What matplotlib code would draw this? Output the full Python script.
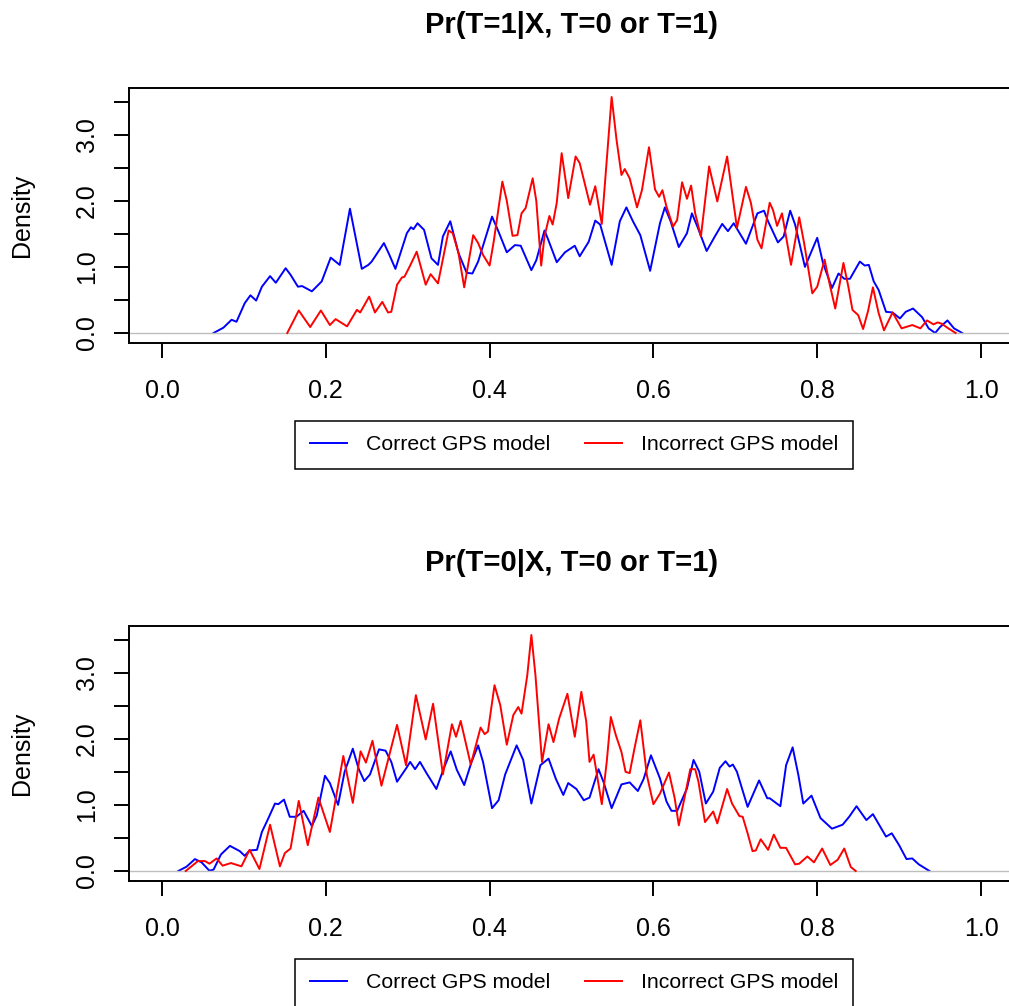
import matplotlib
matplotlib.use("Agg")
import matplotlib.pyplot as plt

plt.rcParams['font.family'] = ['Liberation Sans', 'DejaVu Sans']

# density curves
# top panel: Pr(T=1|X, T=0 or T=1)
t1_correct_x = [0.063, 0.075, 0.085, 0.091, 0.101, 0.108, 0.115, 0.122, 0.132, 0.139, 0.151, 0.157, 0.166, 0.171,
                0.183, 0.195, 0.206, 0.217, 0.2295, 0.244, 0.252, 0.256, 0.271, 0.277, 0.285, 0.299, 0.304, 0.307,
                0.312, 0.320, 0.329, 0.337, 0.343, 0.352, 0.362, 0.372, 0.379, 0.386, 0.403, 0.411, 0.421, 0.431,
                0.438, 0.451, 0.457, 0.467, 0.471, 0.482, 0.492, 0.504, 0.510, 0.521, 0.529, 0.535, 0.549, 0.559,
                0.567, 0.575, 0.584, 0.596, 0.608, 0.614, 0.621, 0.631, 0.641, 0.647, 0.654, 0.665, 0.675, 0.684,
                0.691, 0.698, 0.713, 0.727, 0.735, 0.740, 0.752, 0.759, 0.767, 0.773, 0.785, 0.800, 0.807, 0.818,
                0.826, 0.833, 0.840, 0.852, 0.858, 0.863, 0.869, 0.875, 0.884, 0.892, 0.901, 0.908, 0.917, 0.928,
                0.936, 0.944, 0.950, 0.959, 0.967, 0.977]
t1_correct_y = [0.0, 0.08, 0.2, 0.17, 0.45, 0.57, 0.49, 0.70, 0.86, 0.76, 0.98, 0.88, 0.70, 0.71,
                0.63, 0.78, 1.14, 1.03, 1.88, 0.97, 1.03, 1.08, 1.36, 1.20, 0.97, 1.51, 1.60, 1.57,
                1.66, 1.56, 1.13, 1.03, 1.46, 1.69, 1.21, 0.91, 0.90, 1.08, 1.76, 1.53, 1.22, 1.33,
                1.32, 0.95, 1.10, 1.55, 1.43, 1.07, 1.22, 1.32, 1.16, 1.38, 1.70, 1.64, 1.03, 1.69,
                1.90, 1.69, 1.48, 0.94, 1.66, 1.90, 1.69, 1.30, 1.51, 1.81, 1.60, 1.24, 1.46, 1.65,
                1.54, 1.66, 1.35, 1.81, 1.85, 1.69, 1.37, 1.46, 1.85, 1.64, 1.00, 1.44, 1.06, 0.68,
                0.90, 0.82, 0.82, 1.08, 1.02, 1.03, 0.78, 0.65, 0.32, 0.31, 0.22, 0.32, 0.37, 0.24,
                0.07, 0.0, 0.09, 0.19, 0.07, 0.0]

t1_incorrect_x = [0.153, 0.167, 0.181, 0.194, 0.205, 0.212, 0.226, 0.238, 0.242, 0.253, 0.260, 0.269, 0.276, 0.280,
                  0.287, 0.293, 0.296, 0.303, 0.311, 0.322, 0.328, 0.337, 0.350, 0.355, 0.362, 0.369, 0.380, 0.386,
                  0.392, 0.400, 0.405, 0.4156, 0.421, 0.428, 0.434, 0.439, 0.444, 0.4526, 0.457, 0.463, 0.467, 0.473,
                  0.477, 0.482, 0.488, 0.496, 0.505, 0.510, 0.5226, 0.529, 0.537, 0.549, 0.555, 0.561, 0.565, 0.571,
                  0.580, 0.586, 0.5946, 0.602, 0.607, 0.611, 0.616, 0.624, 0.629, 0.635, 0.641, 0.646, 0.651, 0.658,
                  0.668, 0.678, 0.690, 0.702, 0.713, 0.719, 0.727, 0.732, 0.742, 0.746, 0.751, 0.757, 0.768, 0.778,
                  0.784, 0.794, 0.800, 0.809, 0.815, 0.822, 0.832, 0.838, 0.843, 0.850, 0.856, 0.862, 0.868, 0.875,
                  0.8815, 0.892, 0.903, 0.916, 0.926, 0.934, 0.942, 0.947, 0.952, 0.960, 0.969]
t1_incorrect_y = [0.0, 0.34, 0.09, 0.34, 0.12, 0.21, 0.10, 0.35, 0.31, 0.55, 0.31, 0.47, 0.31, 0.32,
                  0.73, 0.84, 0.85, 1.02, 1.23, 0.73, 0.89, 0.75, 1.55, 1.51, 1.21, 0.69, 1.48, 1.36,
                  1.18, 1.02, 1.38, 2.29, 2.0, 1.47, 1.48, 1.81, 1.89, 2.34, 2.0, 1.02, 1.46, 1.77,
                  1.64, 1.97, 2.72, 2.04, 2.67, 2.57, 1.94, 2.22, 1.65, 3.57, 2.92, 2.39, 2.48, 2.34,
                  1.90, 2.16, 2.81, 2.17, 2.06, 2.16, 1.91, 1.61, 1.71, 2.28, 2.03, 2.23, 1.81, 1.46,
                  2.52, 1.99, 2.67, 1.59, 2.21, 1.97, 1.41, 1.28, 1.97, 1.86, 1.62, 1.81, 1.03, 1.75,
                  1.36, 0.60, 0.70, 1.11, 0.75, 0.37, 1.06, 0.70, 0.35, 0.27, 0.06, 0.33, 0.69, 0.30,
                  0.04, 0.31, 0.07, 0.12, 0.07, 0.19, 0.13, 0.16, 0.14, 0.07, 0.0]

# bottom panel: Pr(T=0|X, T=0 or T=1)
t0_correct_x = [0.020, 0.030, 0.0403, 0.0484, 0.0578, 0.063, 0.072, 0.083, 0.095, 0.101, 0.107, 0.116, 0.122, 0.130,
                0.138, 0.142, 0.149, 0.156, 0.164, 0.173, 0.183, 0.189, 0.199, 0.205, 0.215, 0.223, 0.233, 0.240,
                0.247, 0.254, 0.265, 0.273, 0.280, 0.287, 0.298, 0.303, 0.309, 0.315, 0.323, 0.335, 0.344, 0.3525,
                0.360, 0.369, 0.378, 0.386, 0.392, 0.403, 0.411, 0.419, 0.426, 0.433, 0.441, 0.451, 0.462, 0.472,
                0.481, 0.490, 0.496, 0.506, 0.515, 0.522, 0.533, 0.539, 0.549, 0.561, 0.571, 0.581, 0.588, 0.597,
                0.608, 0.616, 0.622, 0.629, 0.641, 0.649, 0.656, 0.664, 0.673, 0.681, 0.688, 0.693, 0.697, 0.702,
                0.715, 0.729, 0.739, 0.742, 0.755, 0.762, 0.770, 0.777, 0.783, 0.793, 0.804, 0.818, 0.831, 0.839,
                0.848, 0.860, 0.868, 0.884, 0.891, 0.900, 0.909, 0.916, 0.924, 0.937]
t0_correct_y = [0.0, 0.065, 0.18, 0.13, 0.005, 0.02, 0.25, 0.38, 0.30, 0.23, 0.31, 0.32, 0.59, 0.80,
                1.02, 1.01, 1.08, 0.82, 0.82, 0.91, 0.68, 0.84, 1.44, 1.33, 1.00, 1.50, 1.85, 1.55,
                1.36, 1.46, 1.84, 1.82, 1.65, 1.35, 1.55, 1.65, 1.54, 1.65, 1.48, 1.24, 1.55, 1.81,
                1.53, 1.30, 1.65, 1.90, 1.65, 0.95, 1.07, 1.46, 1.68, 1.90, 1.68, 1.02, 1.60, 1.70,
                1.39, 1.15, 1.33, 1.24, 1.07, 1.11, 1.54, 1.35, 0.95, 1.31, 1.34, 1.21, 1.39, 1.75,
                1.40, 1.05, 0.91, 0.91, 1.25, 1.68, 1.50, 1.02, 1.20, 1.56, 1.66, 1.58, 1.61, 1.50,
                0.97, 1.37, 1.10, 1.10, 0.98, 1.60, 1.87, 1.45, 1.02, 1.14, 0.80, 0.64, 0.70, 0.82,
                0.98, 0.77, 0.86, 0.52, 0.57, 0.39, 0.18, 0.19, 0.10, 0.0]

t0_incorrect_x = [0.029, 0.036, 0.044, 0.0525, 0.058, 0.0667, 0.074, 0.0842, 0.097, 0.107, 0.119, 0.132, 0.144, 0.150,
                  0.157, 0.167, 0.178, 0.191, 0.205, 0.2214, 0.233, 0.2425, 0.249, 0.257, 0.268, 0.287, 0.298, 0.310,
                  0.322, 0.331, 0.343, 0.354, 0.359, 0.3647, 0.377, 0.389, 0.394, 0.398, 0.406, 0.413, 0.421, 0.429,
                  0.435, 0.439, 0.446, 0.451, 0.456, 0.464, 0.472, 0.478, 0.485, 0.495, 0.504, 0.512, 0.518, 0.522,
                  0.527, 0.537, 0.543, 0.548, 0.554, 0.561, 0.566, 0.571, 0.577, 0.584, 0.592, 0.600, 0.608, 0.619,
                  0.626, 0.631, 0.639, 0.645, 0.651, 0.655, 0.663, 0.673, 0.678, 0.690, 0.696, 0.705, 0.709, 0.715,
                  0.721, 0.725, 0.731, 0.740, 0.747, 0.755, 0.762, 0.773, 0.778, 0.788, 0.796, 0.806, 0.816, 0.825,
                  0.833, 0.841, 0.847]
t0_incorrect_y = [0.0, 0.07, 0.15, 0.15, 0.11, 0.19, 0.08, 0.12, 0.07, 0.32, 0.03, 0.70, 0.07, 0.27,
                  0.34, 1.06, 0.39, 1.11, 0.59, 1.74, 1.03, 1.81, 1.64, 1.97, 1.29, 2.21, 1.60, 2.66,
                  1.99, 2.53, 1.46, 2.22, 2.03, 2.27, 1.61, 2.17, 2.07, 2.11, 2.81, 2.51, 1.91, 2.36,
                  2.48, 2.38, 2.96, 3.57, 2.96, 1.65, 2.22, 1.95, 2.31, 2.68, 2.03, 2.71, 2.26, 1.65,
                  1.76, 1.01, 1.65, 2.33, 2.06, 1.80, 1.50, 1.48, 1.86, 2.28, 1.45, 1.01, 1.17, 1.49,
                  1.10, 0.69, 1.17, 1.54, 1.54, 1.35, 0.74, 0.90, 0.72, 1.24, 1.02, 0.83, 0.82, 0.57,
                  0.30, 0.31, 0.48, 0.32, 0.55, 0.35, 0.35, 0.10, 0.11, 0.22, 0.13, 0.34, 0.09, 0.17,
                  0.34, 0.06, 0.0]

titles = ['Pr(T=1|X, T=0 or T=1)', 'Pr(T=0|X, T=0 or T=1)']
legend_labels = ['Correct GPS model', 'Incorrect GPS model']
x_ticks = [0.0, 0.2, 0.4, 0.6, 0.8, 1.0]
y_ticks = [0.0, 0.5, 1.0, 1.5, 2.0, 2.5, 3.0, 3.5]

W, H = 1009, 1006
fig = plt.figure(figsize=(W / 100, H / 100), dpi=100)


def panel(top_px, cx, cy, ix, iy, title):
    # axes box in pixels: x from 129.2 to 1013.8 (runs off the right edge), height 254.5
    ax = fig.add_axes([129.2 / W, 1 - (top_px + 254.5) / H, 884.6 / W, 254.5 / H])
    l1, = ax.plot(cx, cy, color='#0000FF', lw=1.4, solid_joinstyle='round')
    ax.axhline(0, color='#BEBEBE', lw=1.0)
    l2, = ax.plot(ix, iy, color='#FF0000', lw=1.4, solid_joinstyle='round')
    ax.set_xlim(-0.04, 1.04)
    ax.set_ylim(-0.144, 3.706)
    ax.set_xticks(x_ticks)
    ax.set_xticklabels(['%.1f' % v for v in x_ticks])
    ax.set_yticks(y_ticks)
    ax.set_yticklabels(['%.1f' % v if v == int(v) else '' for v in y_ticks])
    for s in ax.spines.values():
        s.set_linewidth(1.4)
    ax.tick_params(direction='out', length=10.8, width=1.4, labelsize=18)
    ax.tick_params(axis='x', pad=15.5)
    ax.tick_params(axis='y', pad=11, labelrotation=90)
    for lab in ax.get_yticklabels():
        lab.set_va('center')
    fig.text(22 / W, 1 - (top_px + 127) / H, 'Density', rotation=90, ha='center', va='center', fontsize=18)
    fig.text(571.5 / W, 1 - (top_px - 55) / H, title, ha='center', va='baseline',
             fontsize=21, fontweight='bold')
    leg = fig.legend([l1, l2], legend_labels, loc='upper left', ncol=2,
                     bbox_to_anchor=(295.4 / W, 1 - (top_px + 333) / H),
                     fontsize=15.3, frameon=True, fancybox=False, edgecolor='black', framealpha=1,
                     borderpad=0.68, handlelength=1.76, handletextpad=0.9, columnspacing=1.6,
                     borderaxespad=0)
    leg.get_frame().set_linewidth(1.1)
    return ax


panel(88, t1_correct_x, t1_correct_y, t1_incorrect_x, t1_incorrect_y, titles[0])
panel(626, t0_correct_x, t0_correct_y, t0_incorrect_x, t0_incorrect_y, titles[1])

fig.savefig('out.png', dpi=100)
